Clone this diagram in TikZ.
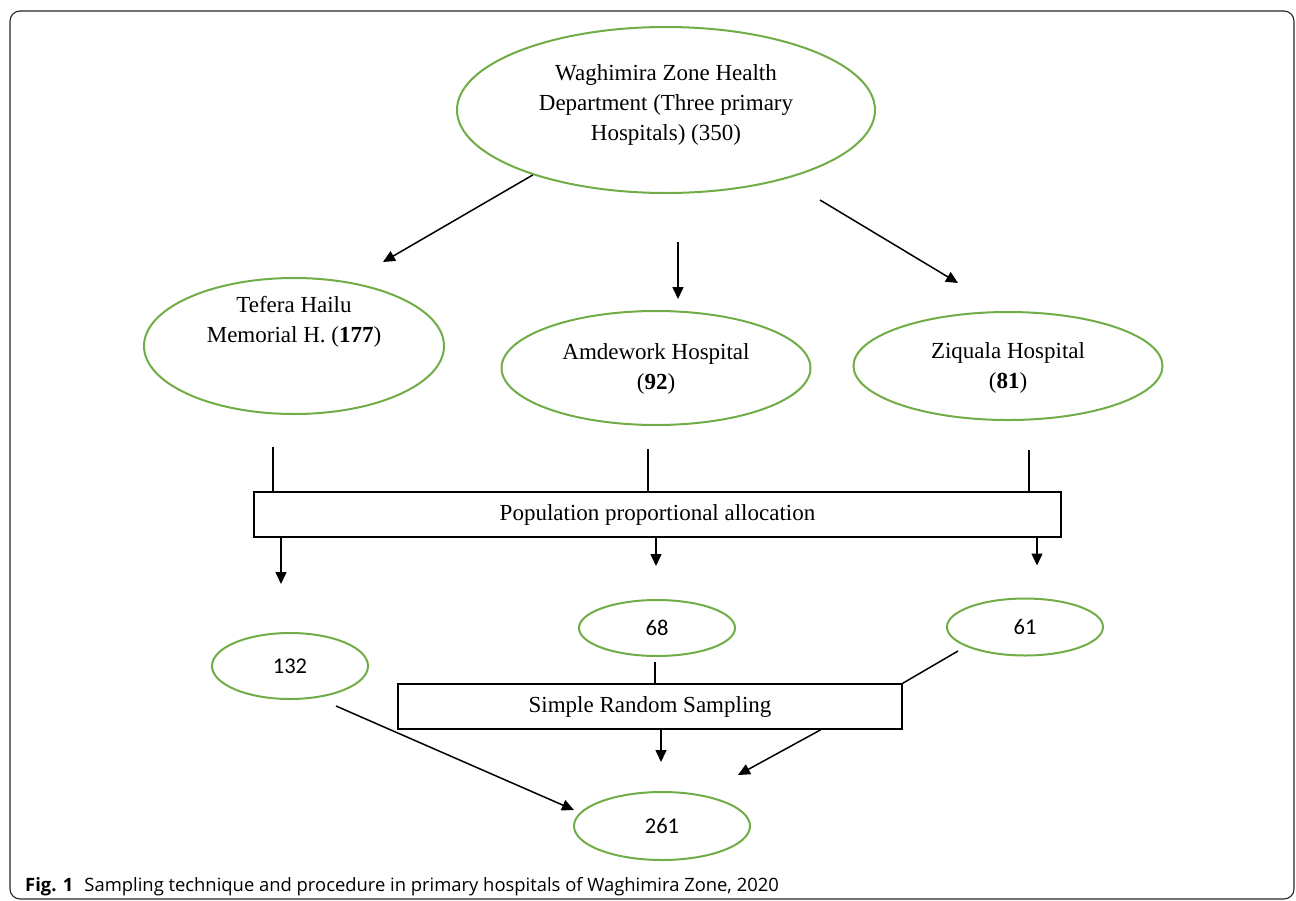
\documentclass[tikz,border=0pt]{standalone}
\usepackage{fontspec}
\setmainfont{Liberation Serif}
\newfontfamily\numfont{Carlito}
\newfontfamily\capfont{Open Sans}
\usetikzlibrary{shapes.geometric,arrows.meta}
\definecolor{ovalgreen}{RGB}{112,173,71}
\begin{document}
\begin{tikzpicture}[x=1pt,y=-1pt,
  oval/.style={draw=ovalgreen, line width=2pt, ellipse, inner sep=0pt},
  lab/.style={font=\fontsize{23}{30}\selectfont, align=center, inner sep=0pt},
  num/.style={font=\numfont\fontsize{22.5}{25}\selectfont, inner sep=0pt},
  conn/.style={line width=1.5pt, black},
  arr/.style={conn, -{Triangle[length=12pt,width=11pt]}},
  boxnode/.style={draw, line width=1.5pt, rectangle, inner sep=0pt, font=\fontsize{23}{26}\selectfont},
]
\useasboundingbox (0,0) rectangle (1296,900);
\draw[line width=1.1pt, draw=black!85, rounded corners=10pt] (10,11) rectangle (1294,899);

% ellipses
\node[oval, minimum width=418pt, minimum height=166pt] (top) at (666,110) {};
\node[lab] (toptext) at (666,105) {Waghimira Zone Health\\Department (Three primary\\Hospitals) (350)};
\node[oval, minimum width=300pt, minimum height=136pt] (teh) at (294,346) {};
\node[lab] (tehtext) at (294,322) {Tefera Hailu\\Memorial H. (\textbf{177})};
\node[oval, minimum width=309pt, minimum height=114pt] (amd) at (656,368) {};
\node[lab] (amdtext) at (656,369) {Amdework Hospital\\(\textbf{92})};
\node[oval, minimum width=309pt, minimum height=108pt] (ziq) at (1008,366) {};
\node[lab] (ziqtext) at (1008,368) {Ziquala Hospital\\(\textbf{81})};

% boxes
\node[boxnode, minimum width=807pt, minimum height=45pt] (pop) at (657.5,514.5) {Population proportional allocation};
\node[boxnode, minimum width=504pt, minimum height=45pt] (srs) at (650,706.5) {Simple Random Sampling};

% small ellipses
\node[oval, num, minimum width=156pt, minimum height=66pt] (n132) at (290,666) {132};
\node[oval, num, minimum width=156pt, minimum height=56pt] (n68) at (657,628) {68};
\node[oval, num, minimum width=156pt, minimum height=57pt] (n61) at (1025,627) {61};
\node[oval, num, minimum width=176pt, minimum height=68pt] (n261) at (662,826) {261};

% top arrows
\draw[arr] (top.206) -- ([shift={(89,-84)}]teh.center);
\draw[arr] ([shift={(12,48)}]top.south) -- ([shift={(22,-11)}]amd.north);
\draw[arr] ([shift={(154,90)}]top.center) -- ([shift={(-50,-83)}]ziq.center);

% lines into population box
\draw[conn] ([shift={(-21,32)}]teh.south) coordinate (t1) -- (t1 |- pop.north);
\draw[conn] ([shift={(-8,23)}]amd.south) coordinate (t2) -- (t2 |- pop.north);
\draw[conn] ([shift={(21,29)}]ziq.south) coordinate (t3) -- (t3 |- pop.north);

% arrows out of population box
\coordinate (d1) at ([shift={(-9,-48)}]n132.north);
\draw[arr] (d1 |- pop.south) -- (d1);
\coordinate (d2) at ([shift={(-1,-33)}]n68.north);
\draw[arr] (d2 |- pop.south) -- (d2);
\coordinate (d3) at ([shift={(12,-32)}]n61.north);
\draw[arr] (d3 |- pop.south) -- (d3);

% into simple random sampling
\draw[conn] ([shift={(-2,5)}]n68.south) coordinate (s1) -- (s1 |- srs.north);
\draw[conn] ([shift={(-67,24)}]n61.center) -- (srs.north east);

% to 261
\coordinate (e1) at ([shift={(-1,-29)}]n261.north);
\draw[arr] (e1 |- srs.south) -- (e1);
\draw[arr] ([shift={(-82,0)}]srs.south east) -- ([shift={(76,-51)}]n261.center);
\draw[arr] ([shift={(46,40)}]n132.center) -- ([shift={(-88,-16)}]n261.center);

% caption
\node[anchor=base west, inner sep=0pt, font=\capfont\fontsize{18.4}{20}\selectfont] (cap) at (25,891)
  {\textbf{Fig. 1}\hspace{11pt}Sampling technique and procedure in primary hospitals of Waghimira Zone, 2020};
\end{tikzpicture}
\end{document}
